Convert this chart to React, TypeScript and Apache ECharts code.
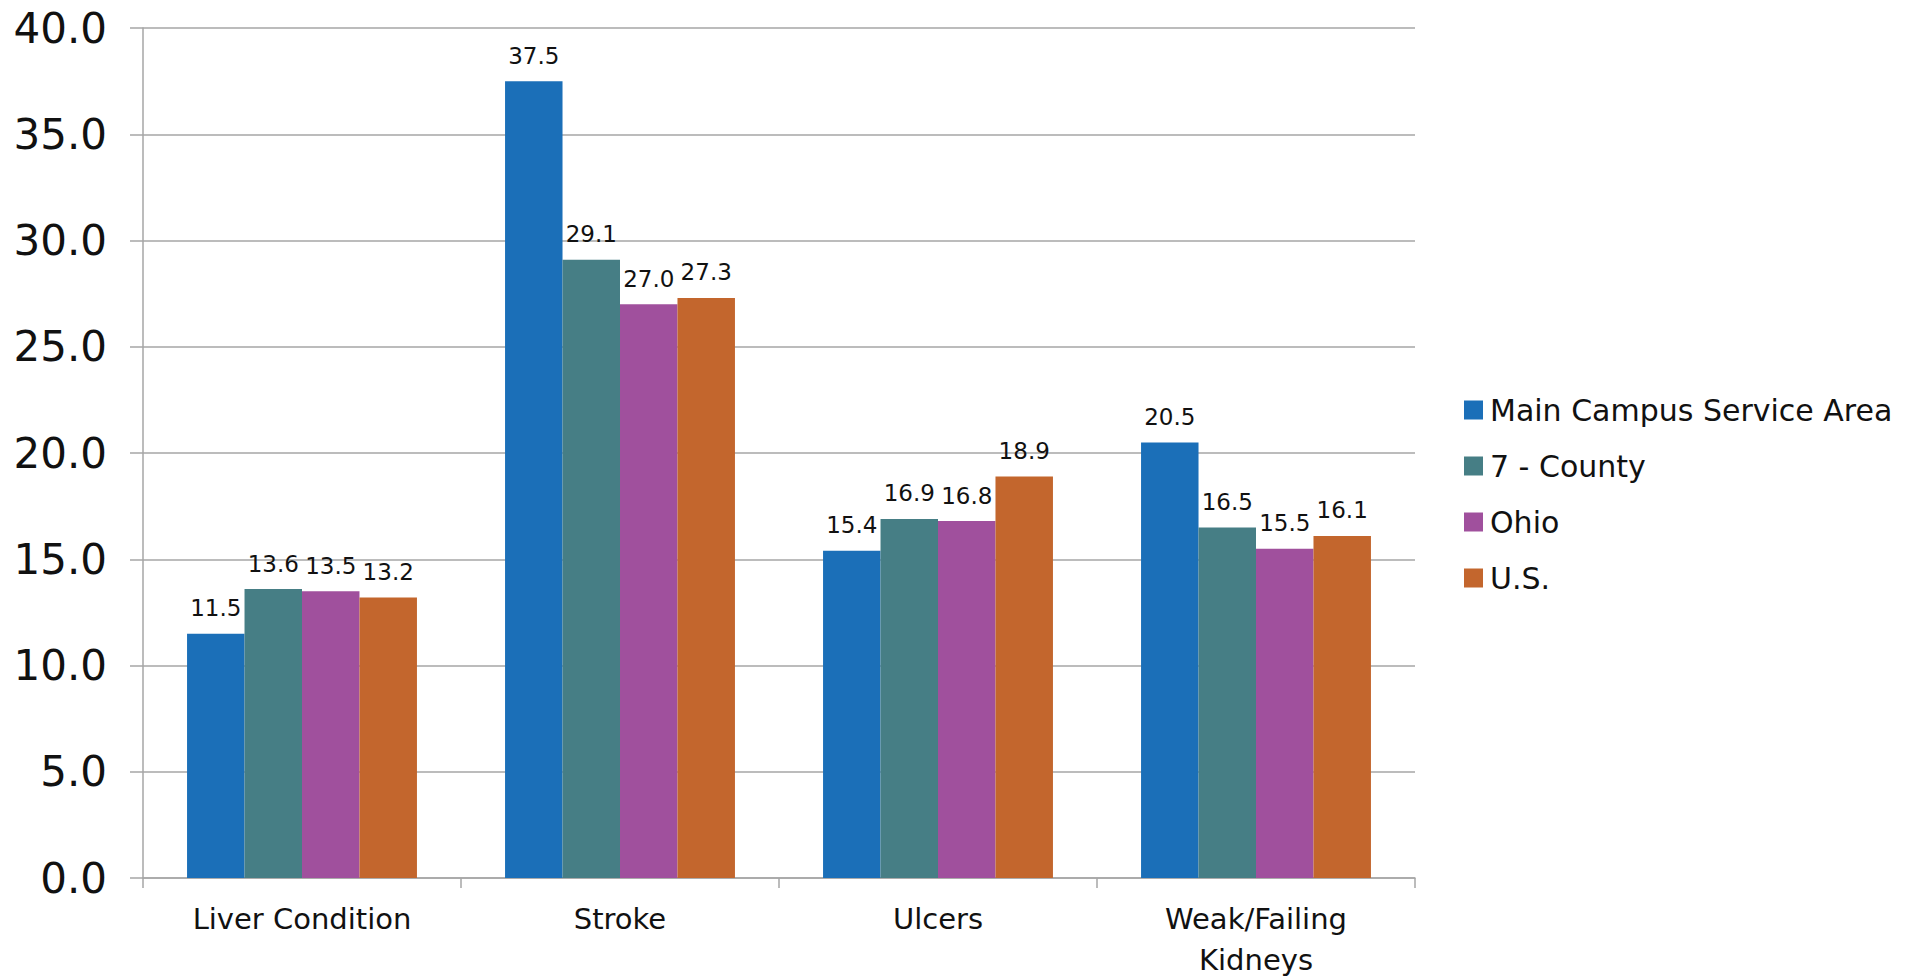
import React, { useEffect, useRef } from "react";
import * as echarts from "echarts";

const categories = ["Liver Condition", "Stroke", "Ulcers", "Weak/Failing\nKidneys"];
const seriesNames = ["Main Campus Service Area", "7 - County", "Ohio", "U.S."];
const mainCampus = [11.5, 37.5, 15.4, 20.5];
const sevenCounty = [13.6, 29.1, 16.9, 16.5];
const ohio = [13.5, 27.0, 16.8, 15.5];
const us = [13.2, 27.3, 18.9, 16.1];
const colors = ["#1B6FB8", "#467E85", "#A0509D", "#C3662D"];
const yMin = 0;
const yMax = 40;
const yInterval = 5;

const FONT = "DejaVu Sans";

export default function App() {
  const ref = useRef<HTMLDivElement>(null);
  useEffect(() => {
    if (!ref.current) return;
    const chart = echarts.init(ref.current, undefined, { renderer: "svg" });
    const values = [mainCampus, sevenCounty, ohio, us];
    chart.setOption({
      animation: false,
      backgroundColor: "#ffffff",
      textStyle: { fontFamily: FONT },
      grid: { left: 143, top: 28, right: 500, bottom: 102, containLabel: false },
      legend: {
        orient: "vertical",
        left: 1459,
        top: 390,
        itemWidth: 19,
        itemHeight: 19,
        itemGap: 26,
        icon: "rect",
        data: seriesNames,
        textStyle: { fontFamily: FONT, fontSize: 30, lineHeight: 30, color: "#111", padding: [0, 0, 0, 2] },
      },
      xAxis: {
        type: "category",
        data: categories,
        axisLine: { show: true, lineStyle: { color: "#A6A6A6", width: 1.5 } },
        axisTick: { show: true, length: 10, lineStyle: { color: "#A6A6A6", width: 1.5 } },
        axisLabel: { color: "#111", fontFamily: FONT, fontSize: 29, margin: 20, lineHeight: 41 },
      },
      yAxis: {
        type: "value",
        min: yMin,
        max: yMax,
        interval: yInterval,
        axisLine: { show: true, lineStyle: { color: "#A6A6A6", width: 1.5 } },
        axisTick: { show: true, length: 13, lineStyle: { color: "#A6A6A6", width: 1.5 } },
        splitLine: { show: true, lineStyle: { color: "#A6A6A6", width: 1.5 } },
        axisLabel: {
          color: "#111",
          fontFamily: FONT,
          fontSize: 42,
          margin: 36,
          formatter: (v: number) => v.toFixed(1),
        },
      },
      series: seriesNames.map((name, i) => ({
        name,
        type: "bar",
        data: values[i],
        barGap: "0%",
        barCategoryGap: "27.7%",
        itemStyle: { color: colors[i] },
        label: {
          show: true,
          position: "top",
          distance: 14,
          color: "#111",
          fontFamily: FONT,
          fontSize: 23,
          formatter: (p: any) => Number(p.value).toFixed(1),
        },
      })),
    });
    return () => chart.dispose();
  }, []);
  return (
    <div
      ref={ref}
      style={{ position: "absolute", left: 0, top: 0, width: 1915, height: 980 }}
    />
  );
}
